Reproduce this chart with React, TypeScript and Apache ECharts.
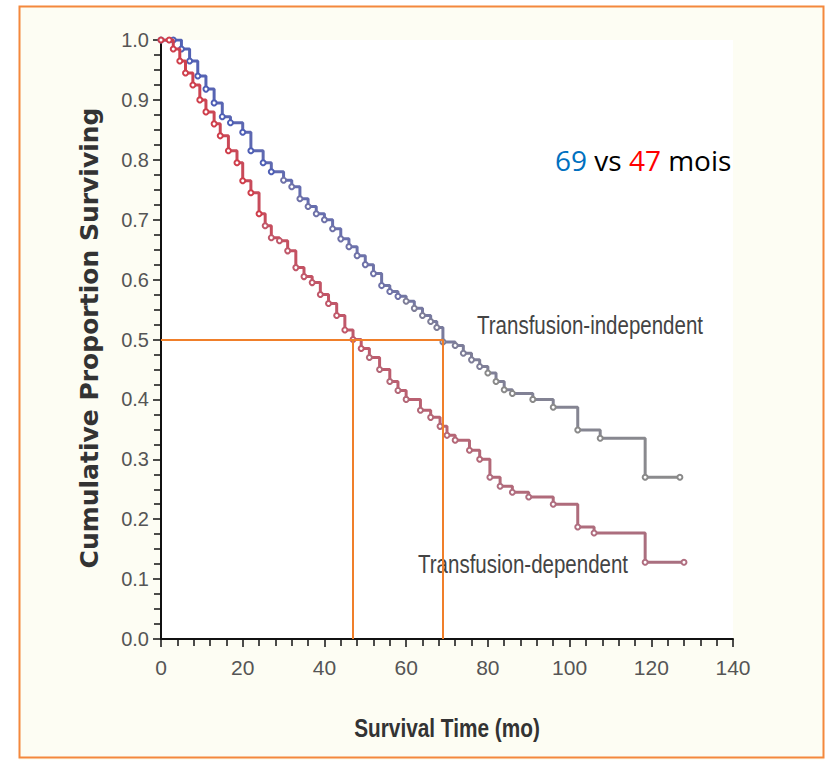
import React, { useEffect, useRef } from "react";
import * as echarts from "echarts";

// Kaplan-Meier estimates (months, proportion surviving)
const indepTime = [0, 3, 5, 7, 9, 11, 13, 15, 17, 20, 22, 25, 27, 30, 32, 34, 36, 38, 40, 42, 44, 46, 48, 50, 52, 54, 56, 58, 60, 62, 64, 66, 67.5, 69, 72, 74, 76, 78, 80, 82, 84, 86, 91, 96, 102, 107.5, 118.5, 127];
const indepSurv = [1.0, 1.0, 0.985, 0.965, 0.94, 0.918, 0.895, 0.872, 0.862, 0.846, 0.815, 0.795, 0.78, 0.766, 0.755, 0.735, 0.722, 0.71, 0.7, 0.685, 0.668, 0.655, 0.64, 0.625, 0.61, 0.59, 0.58, 0.572, 0.564, 0.552, 0.54, 0.53, 0.52, 0.496, 0.49, 0.477, 0.466, 0.455, 0.444, 0.43, 0.416, 0.41, 0.4, 0.387, 0.349, 0.335, 0.27, 0.27];

const depTime = [0, 2, 3, 4.6, 6, 7.8, 9.5, 11, 13, 14.5, 16.5, 18.6, 20, 22, 24, 25.5, 27, 29, 31, 33, 35, 37, 39, 41, 43, 45, 47, 49, 51, 53.5, 56, 58, 60, 63.5, 66, 68.3, 70, 72, 75.5, 78, 80.5, 83, 86, 90, 96, 102, 106, 118.5, 128];
const depSurv = [1.0, 1.0, 0.985, 0.965, 0.945, 0.925, 0.9, 0.88, 0.86, 0.84, 0.815, 0.795, 0.765, 0.745, 0.71, 0.69, 0.67, 0.665, 0.648, 0.62, 0.605, 0.595, 0.575, 0.56, 0.54, 0.516, 0.5, 0.485, 0.47, 0.45, 0.43, 0.415, 0.4, 0.382, 0.37, 0.355, 0.34, 0.332, 0.315, 0.3, 0.27, 0.255, 0.245, 0.237, 0.225, 0.187, 0.177, 0.128, 0.128];

const medianSurvival = [69, 47]; // independent, dependent
const medianLevel = 0.5;

const xTicks = { min: 0, max: 140, interval: 20 };
const yTicks = { min: 0, max: 1, interval: 0.1 };

const curveLabels = ["Transfusion-independent", "Transfusion-dependent"];
const yTitle = "Cumulative Proportion Surviving";
const xTitle = "Survival Time (mo)";

const SANS = '"Liberation Sans", Arial, sans-serif';

function indepColor(t: number) {
  if (t < 30) return "#4f5fb5";
  if (t < 60) return "#6f72a8";
  if (t < 80) return "#7e7e98";
  return "#8a8a8a";
}
function depColor(t: number) {
  if (t < 25) return "#cf3f4c";
  if (t < 50) return "#c0586a";
  if (t < 80) return "#b46878";
  return "#b06e80";
}

export default function App() {
  const ref = useRef<HTMLDivElement>(null);
  useEffect(() => {
    document.body.style.margin = "0";
    const chart = echarts.init(ref.current!, undefined, { renderer: "svg" });

    const indepData = indepTime.map((t, i) => ({
      value: [t, indepSurv[i]],
      itemStyle: { color: indepColor(t), borderColor: indepColor(t) },
    }));
    const depData = depTime.map((t, i) => ({
      value: [t, depSurv[i]],
      itemStyle: { color: depColor(t), borderColor: depColor(t) },
    }));

    const [mIndep, mDep] = medianSurvival;

    chart.setOption({
      animation: false,
      backgroundColor: "#FDFDF3",
      grid: {
        left: 161,
        top: 40,
        width: 572,
        height: 599,
        show: true,
        backgroundColor: "#FFFFFF",
        borderWidth: 0,
        containLabel: false,
      },
      xAxis: {
        type: "value",
        min: xTicks.min,
        max: xTicks.max,
        interval: xTicks.interval,
        axisLine: { show: true, lineStyle: { color: "#111", width: 2 } },
        axisTick: { show: true, length: 8, inside: false, lineStyle: { color: "#111", width: 1.5 } },
        minorTick: { show: true, splitNumber: 5, length: 7, lineStyle: { color: "#111", width: 1.5 } },
        axisLabel: { color: "#555", fontFamily: SANS, fontSize: 21, margin: 18 },
        splitLine: { show: false },
        minorSplitLine: { show: false },
      },
      yAxis: {
        type: "value",
        min: yTicks.min,
        max: yTicks.max,
        interval: yTicks.interval,
        axisLine: { show: true, lineStyle: { color: "#111", width: 2 } },
        axisTick: { show: true, length: 8, inside: false, lineStyle: { color: "#111", width: 1.5 } },
        minorTick: { show: true, splitNumber: 4, length: 7, lineStyle: { color: "#111", width: 1.5 } },
        axisLabel: {
          color: "#555",
          fontFamily: SANS,
          fontSize: 20,
          margin: 12,
          formatter: (v: number) => v.toFixed(1),
        },
        splitLine: { show: false },
        minorSplitLine: { show: false },
      },
      series: [
        {
          name: curveLabels[0],
          type: "line",
          step: "end",
          data: indepData,
          symbol: "emptyCircle",
          symbolSize: 5,
          showSymbol: true,
          lineStyle: {
            width: 3,
            color: new echarts.graphic.LinearGradient(0, 0, 1, 0, [
              { offset: 0, color: "#4f5fb5" },
              { offset: 0.35, color: "#6a70ad" },
              { offset: 0.6, color: "#7e7e98" },
              { offset: 1, color: "#8c8c8c" },
            ]),
          },
          z: 3,
        },
        {
          name: curveLabels[1],
          type: "line",
          step: "end",
          data: depData,
          symbol: "emptyCircle",
          symbolSize: 5,
          showSymbol: true,
          lineStyle: {
            width: 3,
            color: new echarts.graphic.LinearGradient(0, 0, 1, 0, [
              { offset: 0, color: "#cf3f4c" },
              { offset: 0.35, color: "#c0586a" },
              { offset: 0.6, color: "#b46878" },
              { offset: 1, color: "#a87080" },
            ]),
          },
          z: 4,
          markLine: {
            silent: true,
            symbol: "none",
            label: { show: false },
            lineStyle: { color: "#F07F2A", width: 2, type: "solid" },
            data: [
              [{ coord: [xTicks.min, medianLevel] }, { coord: [mIndep, medianLevel] }],
              [{ coord: [mDep, medianLevel] }, { coord: [mDep, yTicks.min] }],
              [{ coord: [mIndep, medianLevel] }, { coord: [mIndep, yTicks.min] }],
            ],
          },
        },
      ],
      graphic: [
        { type: "rect", shape: { x: 0, y: 0, width: 19, height: 760 }, style: { fill: "#FFFFFF" }, silent: true },
        { type: "rect", shape: { x: 0, y: 0, width: 827, height: 6 }, style: { fill: "#FFFFFF" }, silent: true },
        { type: "rect", shape: { x: 824, y: 0, width: 3, height: 760 }, style: { fill: "#FFFFFF" }, silent: true },
        {
          type: "rect",
          shape: { x: 19.5, y: 6.5, width: 804, height: 751 },
          style: { fill: "none", stroke: "#F4883C", lineWidth: 2 },
          silent: true,
        },
        {
          type: "text",
          x: 89,
          y: 338,
          rotation: Math.PI / 2,
          style: {
            text: yTitle,
            font: 'bold 25px "DejaVu Sans", sans-serif',
            fill: "#333",
            align: "center",
            verticalAlign: "middle",
          },
        },
        {
          type: "text",
          x: 447,
          y: 728,
          scaleX: 0.8,
          style: {
            text: xTitle,
            font: "bold 26px " + SANS,
            fill: "#333",
            align: "center",
            verticalAlign: "middle",
          },
        },
        {
          type: "text",
          x: 477,
          y: 325,
          scaleX: 0.82,
          style: {
            text: curveLabels[0],
            font: "25px " + SANS,
            fill: "#444",
            align: "left",
            verticalAlign: "middle",
          },
        },
        {
          type: "text",
          x: 418,
          y: 564,
          scaleX: 0.82,
          style: {
            text: curveLabels[1],
            font: "25px " + SANS,
            fill: "#444",
            align: "left",
            verticalAlign: "middle",
          },
        },
        {
          type: "text",
          x: 555,
          y: 160,
          style: {
            text: "{b|" + mIndep + "} vs {r|" + mDep + "} mois",
            font: '28px "Open Sans", sans-serif',
            fill: "#000",
            align: "left",
            verticalAlign: "middle",
            rich: {
              b: { fill: "#0070C0", color: "#0070C0", font: '28px "Open Sans", sans-serif' },
              r: { fill: "#FF0000", color: "#FF0000", font: '28px "Open Sans", sans-serif' },
            },
          },
        },
      ],
    });
    return () => chart.dispose();
  }, []);
  return <div ref={ref} style={{ width: 827, height: 760 }} />;
}
